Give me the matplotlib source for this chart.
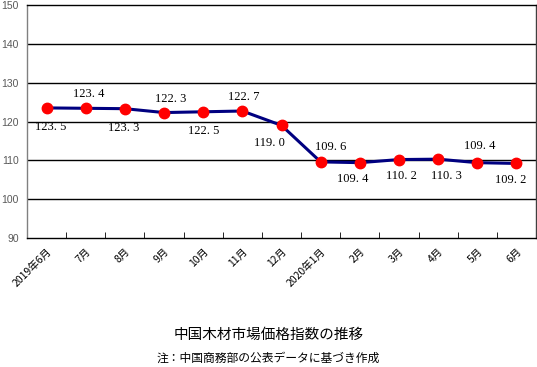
import matplotlib
matplotlib.use("Agg")
import matplotlib.pyplot as plt
import numpy as np

plt.rcParams['font.family'] = ['Noto Sans CJK JP', 'DejaVu Sans']

months = ["2019年6月", "7月", "8月", "9月", "10月", "11月", "12月",
          "2020年1月", "2月", "3月", "4月", "5月", "6月"]
index_values = [123.5, 123.4, 123.3, 122.3, 122.5, 122.7, 119.0,
                109.6, 109.4, 110.2, 110.3, 109.4, 109.2]
y_ticks = [90, 100, 110, 120, 130, 140, 150]

# label offsets (points) relative to each marker
label_offsets = [(3, -14), (2, 10), (-1, -14), (5, 10), (0, -14), (1, 10), (-9, -13),
                 (7, 11), (-5, -12), (2, -12), (6, -12), (2, 12), (-4, -12)]

fig = plt.figure(figsize=(5.37, 3.67), dpi=100)
ax = fig.add_axes([27/537, 1 - 238/367, 509/537, 233/367])

x = np.arange(len(months))
ax.plot(x, index_values, color="#000080", lw=2.2, zorder=3)
ax.plot(x, index_values, "o", color="#ff0000", ms=7.5, zorder=4)

# data labels in a serif face, "123. 5" style
for xi, v, (dx, dy) in zip(x, index_values, label_offsets):
    ax.annotate(("%.1f" % v).replace(".", ". "), (xi, v), xytext=(dx, dy),
                textcoords="offset points", ha="center", va="center",
                fontsize=9, family=["Liberation Serif", "DejaVu Serif"], zorder=5)

ax.set_xlim(-0.5, len(months) - 0.5)
ax.set_ylim(90, 150)
ax.set_yticks(y_ticks)
ax.set_yticklabels([str(t) for t in y_ticks], color="#595959", fontsize=7.5,
                   family=["Liberation Sans"])
for t in y_ticks[1:-1]:
    ax.axhline(t, color="black", lw=1, zorder=1)

ax.set_xticks(x)
ax.set_xticklabels(months, rotation=45, ha="right", rotation_mode="anchor", fontsize=7.5)
ax.tick_params(axis="x", which="major", length=0, pad=6)
ax.set_xticks(np.arange(len(months) + 1) - 0.5, minor=True)
ax.tick_params(axis="x", which="minor", direction="in", length=4, color="black")
ax.tick_params(axis="y", length=0, pad=6)

ax.spines["left"].set_color("#808080")
ax.spines["right"].set_color("#404040")
ax.spines["top"].set_color("black")
ax.spines["bottom"].set_color("black")
for s in ax.spines.values():
    s.set_linewidth(1)

fig.text(0.5, 1 - 335/367, "中国木材市場価格指数の推移", ha="center", va="center", fontsize=10.5)
fig.text(0.5, 1 - 358/367, "注：中国商務部の公表データに基づき作成", ha="center", va="center", fontsize=8.5)

fig.savefig("out.png", dpi=100)
